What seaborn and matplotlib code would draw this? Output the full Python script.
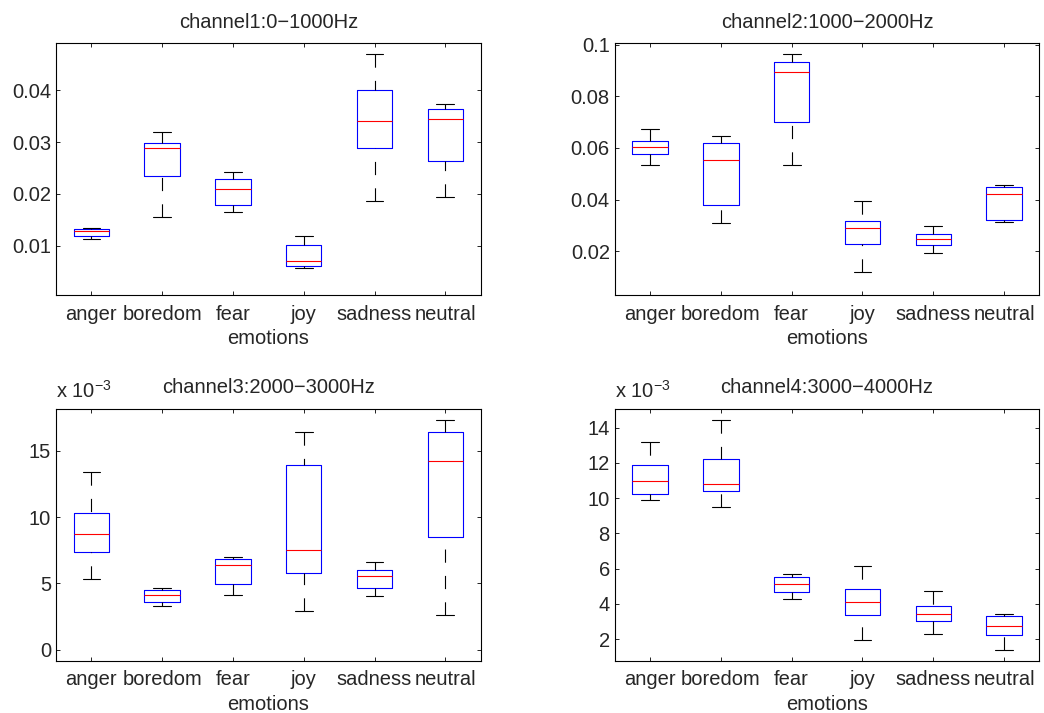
import numpy as np
import pandas as pd
import matplotlib
matplotlib.use("Agg")
import matplotlib.pyplot as plt
import seaborn as sns
from matplotlib.ticker import MultipleLocator, FuncFormatter

# ---------------- data (five-number summaries) -------------
emotions = ["anger", "boredom", "fear", "joy", "sadness", "neutral"]

ch1_low  = [0.01141, 0.01551, 0.01647, 0.00583, 0.01872, 0.01949]
ch1_q1   = [0.01192, 0.02353, 0.01795, 0.00615, 0.02885, 0.02641]
ch1_med  = [0.01288, 0.02878, 0.02096, 0.00705, 0.03397, 0.03436]
ch1_q3   = [0.01333, 0.02987, 0.02295, 0.01026, 0.04000, 0.03641]
ch1_high = [0.01353, 0.03199, 0.02417, 0.01199, 0.04686, 0.03737]

ch2_low  = [0.05329, 0.03097, 0.05342, 0.01187, 0.01923, 0.03123]
ch2_q1   = [0.05755, 0.03806, 0.06994, 0.02284, 0.02258, 0.03213]
ch2_med  = [0.06039, 0.05535, 0.08955, 0.02890, 0.02477, 0.04219]
ch2_q3   = [0.06284, 0.06206, 0.09342, 0.03187, 0.02671, 0.04477]
ch2_high = [0.06748, 0.06477, 0.09626, 0.03948, 0.02994, 0.04555]

ch3_low  = [5.30e-3, 3.27e-3, 4.15e-3, 2.89e-3, 4.02e-3, 2.64e-3]
ch3_q1   = [7.34e-3, 3.59e-3, 4.92e-3, 5.80e-3, 4.67e-3, 8.52e-3]
ch3_med  = [8.74e-3, 4.12e-3, 6.36e-3, 7.54e-3, 5.53e-3, 14.22e-3]
ch3_q3   = [10.28e-3, 4.47e-3, 6.83e-3, 13.94e-3, 5.98e-3, 16.43e-3]
ch3_high = [13.42e-3, 4.67e-3, 6.98e-3, 16.41e-3, 6.61e-3, 17.29e-3]

ch4_low  = [9.89e-3, 9.48e-3, 4.27e-3, 1.94e-3, 2.30e-3, 1.39e-3]
ch4_q1   = [10.23e-3, 10.38e-3, 4.65e-3, 3.36e-3, 3.02e-3, 2.25e-3]
ch4_med  = [10.95e-3, 10.80e-3, 5.14e-3, 4.08e-3, 3.42e-3, 2.72e-3]
ch4_q3   = [11.86e-3, 12.24e-3, 5.50e-3, 4.86e-3, 3.85e-3, 3.31e-3]
ch4_high = [13.19e-3, 14.42e-3, 5.71e-3, 6.13e-3, 4.72e-3, 3.40e-3]

titles = ["channel1:0\u22121000Hz", "channel2:1000\u22122000Hz",
          "channel3:2000\u22123000Hz", "channel4:3000\u22124000Hz"]
xlabel_text = "emotions"

panels = [
    (ch1_low, ch1_q1, ch1_med, ch1_q3, ch1_high),
    (ch2_low, ch2_q1, ch2_med, ch2_q3, ch2_high),
    (ch3_low, ch3_q1, ch3_med, ch3_q3, ch3_high),
    (ch4_low, ch4_q1, ch4_med, ch4_q3, ch4_high),
]

# ---------------- style ----------------
sns.set_theme(style="ticks")
plt.rcParams["font.family"] = ["Liberation Sans", "DejaVu Sans"]
plt.rcParams["mathtext.fontset"] = "custom"
plt.rcParams["mathtext.rm"] = "Liberation Sans"
plt.rcParams["mathtext.it"] = "Liberation Sans"
plt.rcParams["mathtext.bf"] = "Liberation Sans:bold"
plt.rcParams["lines.scale_dashes"] = False
plt.rcParams["axes.linewidth"] = 0.8
plt.rcParams["axes.edgecolor"] = "black"

FS = 14.5
fig = plt.figure(figsize=(10.44, 7.13), dpi=100)
positions = [
    [0.05364, 0.58583, 0.40680, 0.35344],
    [0.58879, 0.58583, 0.40680, 0.35344],
    [0.05364, 0.07335, 0.40680, 0.35344],
    [0.58879, 0.07335, 0.40680, 0.35344],
]
ylims = [(0.0005, 0.049), (0.003, 0.1005), (-0.00083, 0.01817), (0.00077, 0.01508)]
ysteps = [0.01, 0.02, 0.005, 0.002]
scaled = [False, False, True, True]

for i, (summ, pos) in enumerate(zip(panels, positions)):
    ax = fig.add_axes(pos)
    rows = []
    for j, emo in enumerate(emotions):
        for k in range(5):
            rows.append({"emotion": emo, "value": summ[k][j]})
    df = pd.DataFrame(rows)
    sns.boxplot(
        data=df, x="emotion", y="value", order=emotions, ax=ax,
        width=0.5, whis=(0, 100), fill=False, color="blue",
        linewidth=0.8,
        boxprops=dict(color="#0000ff", linewidth=0.8),
        medianprops=dict(color="#ff0000", linewidth=0.8),
        whiskerprops=dict(color="black", linewidth=0.8, linestyle=(0, (9.5, 9.5))),
        capprops=dict(color="black", linewidth=0.8),
        showfliers=False,
    )
    # MATLAB draws whiskers from the whisker end toward the box
    for c in ax.containers:
        for w in getattr(c, "whiskers", []):
            xd, yd = w.get_xdata(), w.get_ydata()
            w.set_data(np.asarray(xd)[::-1], np.asarray(yd)[::-1])

    ax.set_xlim(-0.5, len(emotions) - 0.5)
    ax.set_ylim(*ylims[i])
    ax.yaxis.set_major_locator(MultipleLocator(ysteps[i]))
    if scaled[i]:
        ax.yaxis.set_major_formatter(FuncFormatter(lambda v, p: f"{v*1e3:g}"))
        ax.annotate("x 10$^{\u22123}$", xy=(0, 1), xycoords="axes fraction",
                    xytext=(0, 7.5), textcoords="offset points",
                    ha="left", va="baseline", fontsize=FS)
    else:
        ax.yaxis.set_major_formatter(FuncFormatter(lambda v, p: f"{v:g}"))
    ax.set_xlabel(xlabel_text, fontsize=FS, labelpad=3.8)
    ax.set_ylabel("")
    ax.set_title(titles[i], fontsize=FS, pad=11)
    ax.tick_params(axis="both", direction="in", top=True, right=True,
                   length=3, width=0.6, labelsize=FS, color="black")
    ax.tick_params(axis="x", pad=7.0)
    ax.tick_params(axis="y", pad=3.5)
    for s in ax.spines.values():
        s.set_visible(True)
        s.set_color("black")
        s.set_linewidth(0.8)
    ax.set_facecolor("white")

fig.savefig("out.png", dpi=100, facecolor="white")
